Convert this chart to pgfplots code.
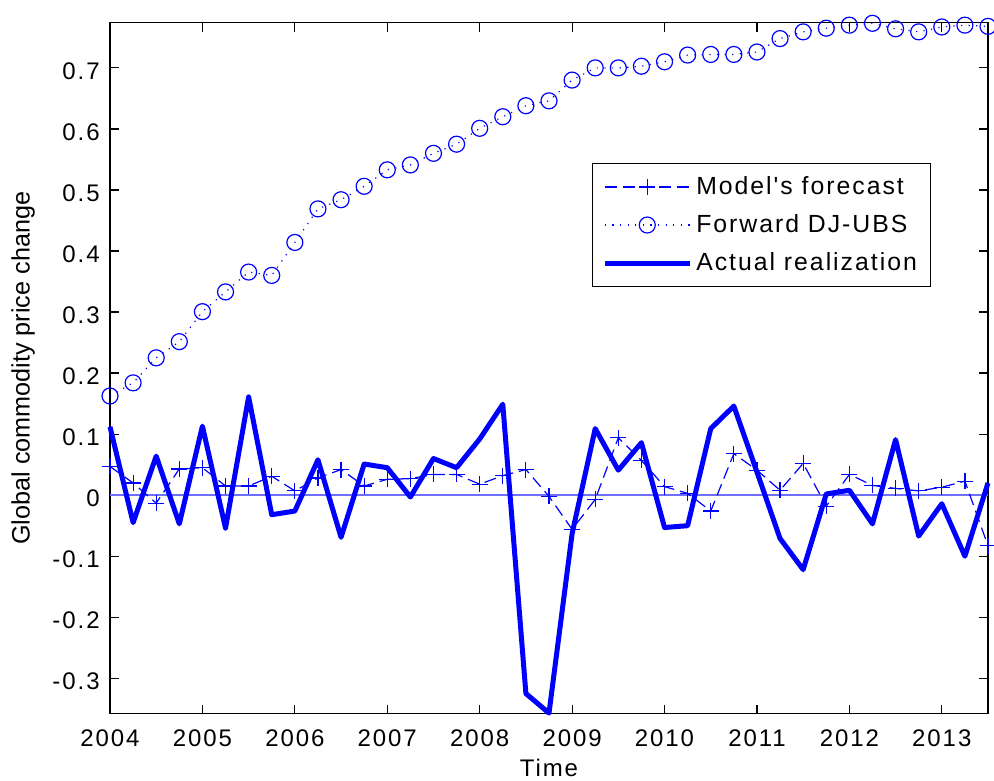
\documentclass[border=0pt]{standalone}
\usepackage{fontspec}
\setmainfont{Liberation Sans}
\newfontfamily\spaced{Liberation Sans}[LetterSpace=8]
\usepackage{pgfplots}
\usepackage{pgfplotstable}
\pgfplotsset{compat=1.18}
\pgfplotstableread{
x fc fwd act
2004.00 0.047 0.1625 0.112
2004.25 0.020 0.184 -0.045
2004.50 -0.013 0.225 0.064
2004.75 0.043 0.2515 -0.047
2005.00 0.045 0.3006 0.113
2005.25 0.015 0.333 -0.054
2005.50 0.015 0.3655 0.161
2005.75 0.031 0.360 -0.032
2006.00 0.007 0.414 -0.026
2006.25 0.028 0.469 0.058
2006.50 0.042 0.484 -0.069
2006.75 0.015 0.506 0.051
2007.00 0.026 0.533 0.045
2007.25 0.027 0.541 -0.003
2007.50 0.034 0.560 0.060
2007.75 0.034 0.575 0.045
2008.00 0.018 0.601 0.092
2008.25 0.032 0.620 0.149
2008.50 0.042 0.638 -0.325
2008.75 -0.002 0.646 -0.357
2009.00 -0.056 0.680 -0.063
2009.25 -0.007 0.700 0.109
2009.50 0.094 0.700 0.041
2009.75 0.057 0.7027 0.086
2010.00 0.014 0.710 -0.053
2010.25 0.003 0.721 -0.050
2010.50 -0.026 0.722 0.109
2010.75 0.068 0.722 0.146
2011.00 0.041 0.726 0.038
2011.25 0.008 0.748 -0.071
2011.50 0.052 0.759 -0.122
2011.75 -0.018 0.765 0.002
2012.00 0.034 0.770 0.008
2012.25 0.016 0.773 -0.047
2012.50 0.011 0.764 0.091
2012.75 0.007 0.759 -0.067
2013.00 0.013 0.767 -0.014
2013.25 0.023 0.770 -0.100
2013.50 -0.083 0.768 0.020
}\datatable
\definecolor{zeroline}{RGB}{110,110,255}
\begin{document}
\begin{tikzpicture}
\begin{axis}[
  scale only axis,
  width=439pt, height=345.5pt,
  xmin=2004, xmax=2013.5,
  ymin=-0.358, ymax=0.774,
  clip=false,
  axis line style={black, line width=0.6pt},
  tick align=inside,
  major tick length=4.5pt,
  tick style={black, line width=0.6pt},
  xtick={2004,2005,2006,2007,2008,2009,2010,2011,2012,2013},
  xticklabels={2004,2005,2006,2007,2008,2009,2010,2011,2012,2013},
  ytick={-0.3,-0.2,-0.1,0,0.1,0.2,0.3,0.4,0.5,0.6,0.7},
  yticklabels={-0.3,-0.2,-0.1,0,0.1,0.2,0.3,0.4,0.5,0.6,0.7},
  xticklabel style={font=\fontsize{12}{14}\spaced, anchor=base, inner sep=0pt, yshift=-16.5pt},
  yticklabel style={font=\fontsize{12}{14}\spaced, anchor=east, inner sep=0pt, xshift=-5pt, yshift=-1.5pt},
  xlabel={Time},
  ylabel={Global commodity price change},
  xlabel style={font=\fontsize{12}{14}\spaced, at={(axis description cs:0.5,0)}, anchor=base, yshift=-31.5pt},
  ylabel style={font=\fontsize{12.6}{14}\selectfont, at={(axis description cs:-0.099,0.5)}, anchor=center},
  legend style={at={(0.5486,0.797)}, anchor=north west, draw=black, line width=0.6pt,
    font=\fontsize{12.4}{14}\spaced, inner xsep=5pt, inner ysep=4.5pt, row sep=4.5pt,
    legend cell align=left},
  legend image code/.code={\draw[mark repeat=2, mark phase=2, #1] plot coordinates {(0pt,0pt) (21.25pt,0pt) (42.5pt,0pt)};},
]
\addplot[zeroline, line width=0.8pt, forget plot] coordinates {(2004,0) (2013.5,0)};
\addplot[blue, line width=0.6pt, dash pattern=on 6pt off 3pt, mark=+, mark size=4pt, mark options={solid, blue}]
  table[x=x, y=fc] {\datatable};
\addlegendentry{Model's forecast}
\addplot[blue, line width=0.6pt, dash pattern=on 0.6pt off 3.2pt, mark=o, mark size=4pt, mark options={solid, blue}]
  table[x=x, y=fwd] {\datatable};
\addlegendentry{Forward DJ-UBS}
\addplot[blue, line width=2.5pt, line join=round]
  table[x=x, y=act] {\datatable};
\addlegendentry{Actual realization}
\end{axis}
\pgfresetboundingbox
\path (-55pt,-33.5pt) rectangle (442pt,356.85pt);
\end{tikzpicture}
\end{document}
